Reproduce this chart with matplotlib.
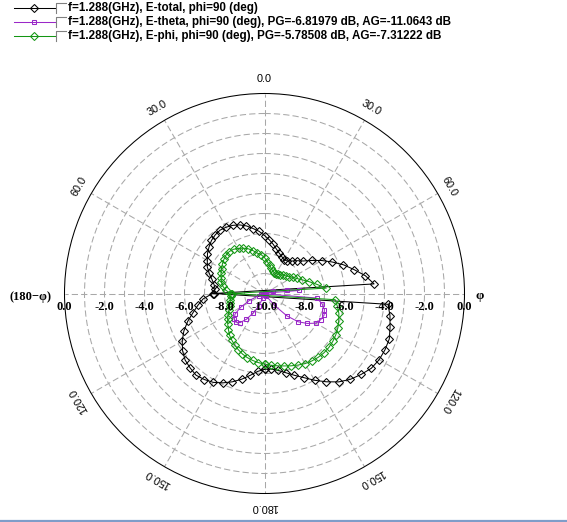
import numpy as np
import matplotlib
matplotlib.use('Agg')
from matplotlib import pyplot as plt
from matplotlib.lines import Line2D
from matplotlib.transforms import ScaledTranslation

R_MIN, R_MAX = -10.0, 0.0

# theta sweep, degrees (0 at top, clockwise)
theta_deg = np.arange(-180, 185, 5)

# dB values, theta = -180 .. 180 step 5
e_total = [-6.21, -6.09, -5.84, -5.56, -5.30, -5.07, -4.87, -4.75, -4.67, -4.74,
           -4.82, -5.00, -5.25, -5.55, -5.91, -6.30, -6.62, -6.92, -7.40, -7.52,
           -7.44, -7.28, -7.06, -6.84, -6.70, -6.52, -6.38, -6.25, -6.17, -6.13,
           -6.17, -6.24, -6.35, -6.50, -6.70, -6.88, -7.10, -7.30, -7.50, -7.70,
           -7.85, -7.96, -8.05, -8.02, -7.88, -7.68, -7.47, -7.12, -6.70, -6.27,
           -5.80, -5.37, -4.88, -4.50, -12.55, -3.80, -3.63, -3.50, -3.36, -3.35,
           -3.38, -3.48, -3.70, -3.93, -4.23, -4.61, -4.99, -5.36, -5.65, -5.90,
           -6.10, -6.21, -6.21]

e_theta = [-10.0, -10.0, -10.0, -10.0, -9.75, -9.30, -8.89, -8.43, -8.10, -7.97,
           -8.03, -8.20, -8.62, -9.14, -9.70, -10.0, -10.0, -10.0, -10.0, -10.0,
           -10.0, -10.0, -10.0, -10.0, -10.0, -10.0, -10.0, -10.0, -10.0, -10.0,
           -10.0, -10.0, -10.0, -10.0, -10.0, -10.0, -10.0, -10.0, -10.0, -10.0,
           -10.0, -10.0, -10.0, -10.0, -10.0, -10.0, -10.0, -10.0, -10.0, -10.0,
           -10.0, -9.55, -8.86, -8.25, -10.2, -7.38, -7.08, -6.90, -6.83, -6.90,
           -7.03, -7.39, -7.80, -8.42, -9.24, -9.85, -10.0, -10.0, -10.0, -10.0,
           -10.0, -10.0, -10.0]

e_phi = [-6.47, -6.53, -6.60, -6.68, -6.78, -6.90, -7.02, -7.15, -7.28, -7.45,
         -7.60, -7.75, -7.90, -8.05, -8.15, -8.22, -8.27, -8.32, -8.30, -8.05,
         -7.88, -7.77, -7.70, -7.60, -7.52, -7.43, -7.35, -7.28, -7.26, -7.30,
         -7.40, -7.50, -7.62, -7.78, -7.95, -8.05, -8.20, -8.40, -8.55, -8.70,
         -8.80, -8.85, -8.85, -8.82, -8.78, -8.70, -8.62, -8.52, -8.38, -8.22,
         -8.00, -7.70, -7.35, -6.90, -11.65, -6.45, -6.30, -6.15, -6.05, -5.95,
         -5.88, -5.83, -5.80, -5.80, -5.83, -5.88, -5.95, -6.05, -6.15, -6.25,
         -6.33, -6.40, -6.47]

legend_labels = ['f=1.288(GHz), E-total, phi=90 (deg)',
                 'f=1.288(GHz), E-theta, phi=90 (deg), PG=-6.81979 dB, AG=-11.0643 dB',
                 'f=1.288(GHz), E-phi, phi=90 (deg), PG=-5.78508 dB, AG=-7.31222 dB']
colors = ['#000000', '#9a28c8', '#139613']
markers = ['D', 's', 'D']

angle_ticks = [0, 30, 60, 120, 150, 180, 210, 240, 300, 330]
angle_tick_labels = ['0.0', '30.0', '60.0', '120.0', '150.0', '180.0',
                     '150.0', '120.0', '60.0', '30.0']
radius_ticks = [0, -2, -4, -6, -8]


def to_polar(theta, db):
    # values below the scale minimum are drawn on the opposite side
    th = np.asarray(theta, dtype=float)
    v = np.asarray(db, dtype=float)
    low = v < R_MIN
    th = np.where(low, th + 180, th)
    v = np.where(low, 2 * R_MIN - v, v)
    return np.deg2rad(th), v


W, H = 567, 522
fig = plt.figure(figsize=(W / 100, H / 100), dpi=100)
fig.patch.set_facecolor('white')

cx, cy, rad = 264.5, 293.5, 200.0
ax = fig.add_axes([(cx - rad) / W, (H - cy - rad) / H, 2 * rad / W, 2 * rad / H],
                  projection='polar')
ax.set_theta_zero_location('N')
ax.set_theta_direction(-1)
ax.set_rlim(R_MIN, R_MAX)
ax.set_rticks(np.arange(-9, 0, 1))
ax.set_yticklabels([])
ax.set_thetagrids(range(0, 360, 30), labels=[''] * 12)
ax.grid(True, color='#a8a8a8', linestyle=(0, (6, 3)), linewidth=0.75)
ax.spines['polar'].set_color('black')
ax.spines['polar'].set_linewidth(0.75)
ax.tick_params(axis='both', length=0, pad=0)

for vals, col, mk in zip([e_total, e_theta, e_phi], colors, markers):
    th, r = to_polar(theta_deg, vals)
    ax.plot(th, r, color=col, linewidth=0.75, marker=mk,
            markersize=3.6 if mk == 'D' else 3.4, markerfacecolor='none',
            markeredgecolor=col, markeredgewidth=0.75, clip_on=False)

# angle labels around the rim
for a, lab in zip(angle_ticks, angle_tick_labels):
    ax.text(np.deg2rad(a), R_MAX + 0.7, lab, rotation=-a, rotation_mode='anchor',
            ha='center', va='center', fontsize=7.8, family='Liberation Sans')

# radial labels along the horizontal axis
down = ax.transData + ScaledTranslation(0, -5.5 / 72, fig.dpi_scale_trans)
for rv in radius_ticks:
    for side in (90, 270):
        ax.text(np.deg2rad(side), rv, '%.1f' % rv, transform=down, ha='center',
                va='top', fontsize=9, fontweight='bold', family='Liberation Serif')
ax.text(0, R_MIN, '-10.0', transform=down, ha='center', va='top', fontsize=9,
        fontweight='bold', family='Liberation Serif')

fig.text(51 / W, 1 - 297 / H, '(180\u2212\u03c6)', ha='right', va='center',
         fontsize=9, fontweight='bold', family='Liberation Serif')
fig.text(480 / W, 1 - 296 / H, '\u03c6', ha='center', va='center',
         fontsize=9.5, fontweight='bold', family='Liberation Serif')

# legend rows
for i, (lab, col, mk) in enumerate(zip(legend_labels, colors, markers)):
    y = 1 - (7.5 + 14 * i) / H
    fig.add_artist(Line2D([14 / W, 34 / W, 55 / W], [y, y, y], color=col,
                          linewidth=0.75, marker=mk, markevery=[1],
                          markersize=3.6 if mk == 'D' else 3.4,
                          markerfacecolor='none', markeredgecolor=col,
                          markeredgewidth=0.75))
    yt, yb = y + 5 / H, y - 5 / H
    fig.add_artist(Line2D([56 / W, 56 / W, 66 / W], [yb, yt, yt],
                          color='#808080', linewidth=0.8))
    fig.text(68.5 / W, y, lab, ha='left', va='center', fontsize=8.4,
             fontweight='bold', family='Liberation Sans')

# window edge at the bottom
fig.add_artist(Line2D([0, 1], [1.2 / H, 1.2 / H], color='#7f9dc9', linewidth=1.6))

fig.savefig('out.png', dpi=100, facecolor='white')
